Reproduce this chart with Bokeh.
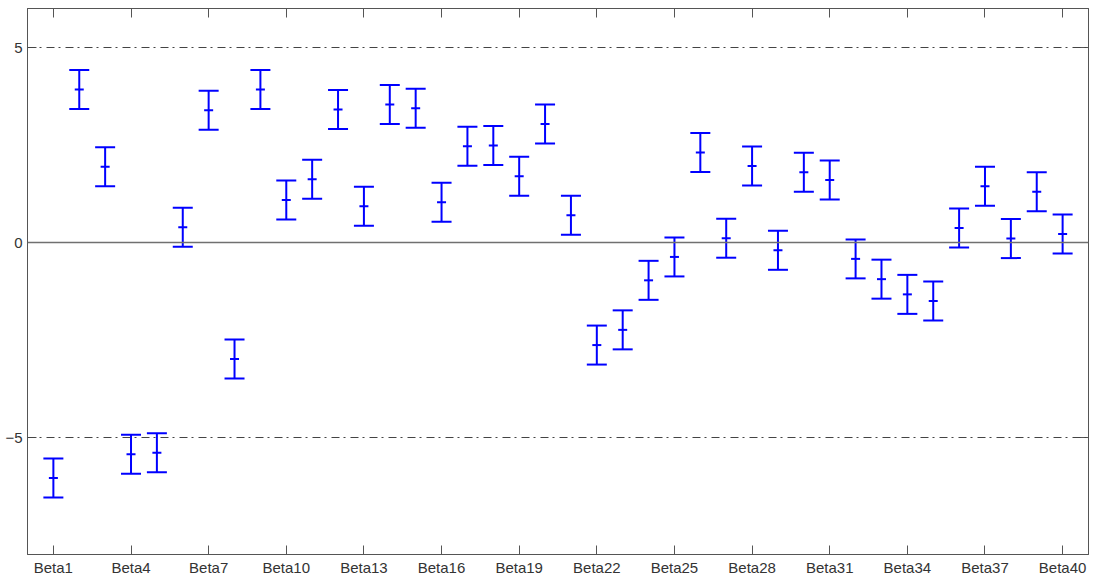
from bokeh.plotting import figure
from bokeh.models import (Range1d, FixedTicker, LinearAxis, Whisker, TeeHead,
                          ColumnDataSource, Span)
from bokeh.embed import file_html
from bokeh.resources import INLINE

# Coefficient estimates with their confidence half-widths
names = [f"Beta{i}" for i in range(1, 41)]
estimates = [-6.04, 3.92, 1.94, -5.43, -5.39, 0.39, 3.39, -2.99, 3.92, 1.09,
             1.62, 3.41, 0.93, 3.54, 3.44, 1.03, 2.47, 2.49, 1.70, 3.04,
             0.70, -2.63, -2.24, -0.97, -0.37, 2.31, 0.11, 1.96, -0.20, 1.80,
             1.60, -0.42, -0.94, -1.33, -1.50, 0.37, 1.44, 0.10, 1.30, 0.22]
half_widths = [0.5] * 40
limit_levels = [-5, 5]
y_ticks = [-5, 0, 5]
x_tick_positions = list(range(1, 41, 3))

idx = list(range(1, len(names) + 1))
src = ColumnDataSource(dict(
    x=idx,
    y=estimates,
    lo=[e - h for e, h in zip(estimates, half_widths)],
    hi=[e + h for e, h in zip(estimates, half_widths)],
))

FONT = "Liberation Sans"
AX = "#555555"
BLUE = "#0000ff"

p = figure(width=1093, height=578, output_backend="svg", toolbar_location=None,
           x_range=Range1d(0, 41), y_range=Range1d(-8, 6),
           min_border_left=27, min_border_right=5, min_border_top=8,
           min_border_bottom=23, background_fill_color="white",
           border_fill_color="white")
p.grid.visible = False
p.outline_line_color = AX
p.outline_line_width = 1

def style_axis(ax, labels=True):
    ax.axis_line_color = AX
    ax.major_tick_line_color = AX
    ax.major_tick_in = 9
    ax.major_tick_out = 0
    ax.minor_tick_line_color = None
    ax.major_label_text_font = FONT
    if labels:
        ax.major_label_text_color = "#333333"
        ax.major_label_text_font_size = "15px"
        ax.major_label_standoff = 4
    else:
        # tick marks only, no tick labels on the mirrored box sides
        ax.major_label_text_color = None
        ax.major_label_text_font_size = "0px"
        ax.major_label_standoff = 0

xb = p.xaxis[0]
xb.ticker = FixedTicker(ticks=x_tick_positions)
xb.major_label_overrides = {i: names[i - 1] for i in x_tick_positions}
style_axis(xb)

yl = p.yaxis[0]
yl.ticker = FixedTicker(ticks=y_ticks)
style_axis(yl)
yl.major_label_standoff = 5

top = LinearAxis(ticker=FixedTicker(ticks=x_tick_positions))
style_axis(top, labels=False)
p.add_layout(top, "above")

right = LinearAxis(ticker=FixedTicker(ticks=y_ticks))
style_axis(right, labels=False)
p.add_layout(right, "right")

# zero reference and the +/- limit lines
p.add_layout(Span(location=0, dimension="width", line_color="#707070",
                  line_width=1.5))
for lv in limit_levels:
    p.add_layout(Span(location=lv, dimension="width", line_color="#444444",
                      line_width=1.2, line_dash="8 4 2 5"))

head = dict(size=20, line_color=BLUE, line_width=2)
w = Whisker(source=src, base="x", lower="lo", upper="hi",
            line_color=BLUE, line_width=2,
            upper_head=TeeHead(**head), lower_head=TeeHead(**head))
p.add_layout(w)
p.scatter("x", "y", source=src, marker="dash", size=9,
          line_color=BLUE, line_width=2)

open("out.html", "w").write(file_html(p, INLINE))
